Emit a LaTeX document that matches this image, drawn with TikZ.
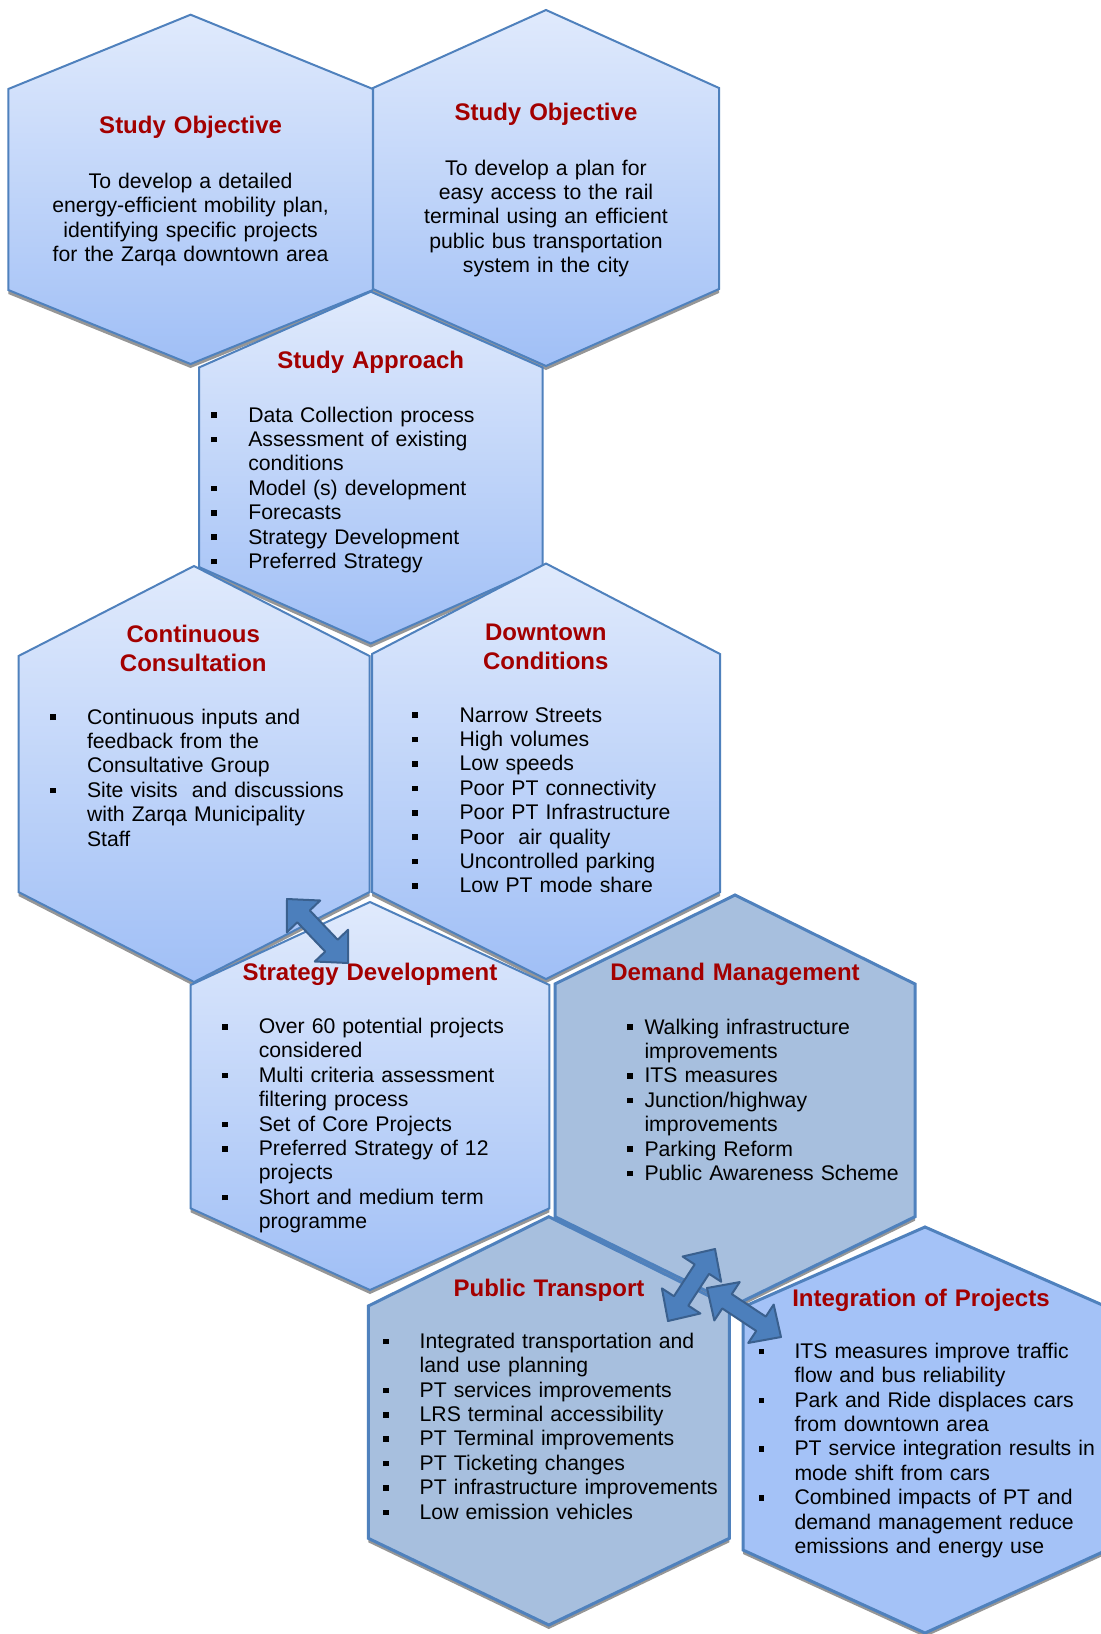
\documentclass[tikz,border=0pt]{standalone}
\usepackage{fontspec}
\setmainfont{Liberation Sans}
\usetikzlibrary{calc}

\definecolor{hexTop}{RGB}{224,234,252}
\definecolor{hexBot}{RGB}{160,191,246}
\definecolor{hexEdge}{RGB}{79,129,189}
\definecolor{greyBlue}{RGB}{167,191,222}
\definecolor{paleBlue}{RGB}{164,194,247}
\definecolor{titleRed}{RGB}{163,0,0}
\definecolor{shadowGrey}{RGB}{150,150,150}
\definecolor{arrowFill}{RGB}{76,127,188}
\definecolor{arrowEdge}{RGB}{58,96,142}

\newcommand{\bodyfont}{\fontsize{10.6}{12.2}\selectfont}
\newcommand{\titlefont}{\fontsize{12}{14.2}\selectfont\bfseries}

% bullet list item with hanging indent
\newlength{\bind}
\newcommand{\bitem}[1]{\hangindent=\bind\hangafter=1\noindent\makebox[\bind][l]{\rule[2pt]{2.8pt}{2.8pt}}#1\par}

% hexagon: centre x, half width, top, upper, lower, bottom
\newcommand{\hexpath}[6]{({#1},{#3}) -- ({#1+#2},{#4}) -- ({#1+#2},{#5}) -- ({#1},{#6}) -- ({#1-#2},{#5}) -- ({#1-#2},{#4}) -- cycle}
\newcommand{\hexcell}[7]{%
  \path[hexshadow] \hexpath{#2}{#3}{#4}{#5}{#6}{#7};
  \path[#1] \hexpath{#2}{#3}{#4}{#5}{#6}{#7};}

% double block arrow between two coordinates
\newcommand{\dblarrow}[2]{%
  \path[blockarrow] (#1)
    -- ($(#1)!12pt!(#2)!11.5pt!90:(#2)$)
    -- ($(#1)!12pt!(#2)!4.3pt!90:(#2)$)
    -- ($(#2)!12pt!(#1)!4.3pt!-90:(#1)$)
    -- ($(#2)!12pt!(#1)!11.5pt!-90:(#1)$)
    -- (#2)
    -- ($(#2)!12pt!(#1)!11.5pt!90:(#1)$)
    -- ($(#2)!12pt!(#1)!4.3pt!90:(#1)$)
    -- ($(#1)!12pt!(#2)!4.3pt!-90:(#2)$)
    -- ($(#1)!12pt!(#2)!11.5pt!-90:(#2)$)
    -- cycle;}

\tikzset{
  hexshadow/.style={fill=shadowGrey, shift={(0,4)}},
  gradhex/.style={draw=hexEdge, line width=1pt, top color=hexTop, bottom color=hexBot},
  greyhex/.style={draw=hexEdge, line width=1.5pt, fill=greyBlue},
  palehex/.style={draw=hexEdge, line width=1.5pt, fill=paleBlue},
  hextitle/.style={anchor=base, inner sep=0pt, text width=170pt, align=center, font=\titlefont, text=titleRed},
  centretext/.style={anchor=base, inner sep=0pt, text width=170pt, align=center, font=\bodyfont},
  bullets/.style={anchor=base west, inner sep=0pt, text width=180pt, align=left, font=\bodyfont,
    execute at begin node={\setlength{\bind}{#1}}},
  blockarrow/.style={fill=arrowFill, draw=arrowEdge, line width=1pt, line join=round}
}

\begin{document}
\begin{tikzpicture}[x=0.5pt, y=-0.5pt]
  \path[use as bounding box, fill=white] (0,0) rectangle (1101,1634);

  % hexagons
  \hexcell{gradhex}{190.6}{182.3}{14.7}{89}{290}{364}
  \hexcell{gradhex}{546}{173}{10}{88}{289}{366}
  \hexcell{gradhex}{370.8}{171.8}{291.7}{367.5}{567}{643.5}
  \hexcell{gradhex}{194}{175.5}{566}{656}{892}{982}
  \hexcell{gradhex}{546}{174}{563.5}{654}{892}{979}
  \hexcell{gradhex}{370}{179.4}{902}{985}{1208.3}{1290}
  \hexcell{greyhex}{735}{180}{895}{984}{1216.7}{1305}
  \hexcell{greyhex}{548.8}{180.5}{1216.7}{1306}{1538.3}{1625}
  \hexcell{palehex}{925}{182}{1227}{1307}{1550}{1633}

  % Study Objective (left)
  \node[hextitle] (obj1-title) at (190.6,133) {Study Objective};
  \node[centretext] (obj1-text) at (190.6,188.3) {To develop a detailed\\energy-efficient mobility plan,\\identifying specific projects\\for the Zarqa downtown area};

  % Study Objective (right)
  \node[hextitle] (obj2-title) at (546,120.7) {Study Objective};
  \node[centretext] (obj2-text) at (546,175) {To develop a plan for\\easy access to the rail\\terminal using an efficient\\public bus transportation\\system in the city};

  % Study Approach
  \node[hextitle] (appr-title) at (370.8,368.5) {Study Approach};
  \node[bullets=18.6pt] (appr-list) at (210.7,422) {\bitem{Data Collection process}\bitem{Assessment of existing\newline conditions}\bitem{Model (s) development}\bitem{Forecasts}\bitem{Strategy Development}\bitem{Preferred Strategy}};

  % Continuous Consultation
  \node[hextitle] (cons-title) at (193.3,642.7) {Continuous\\Consultation};
  \node[bullets=18.3pt] (cons-list) at (50,724) {\bitem{Continuous inputs and\newline feedback from the\newline Consultative Group}\bitem{Site visits\ \ and discussions\newline with Zarqa Municipality\newline Staff}};

  % Downtown Conditions
  \node[hextitle] (down-title) at (545.8,640.8) {Downtown\\Conditions};
  \node[bullets=23.7pt] (down-list) at (411.8,722) {\bitem{Narrow Streets}\bitem{High volumes}\bitem{Low speeds}\bitem{Poor PT connectivity}\bitem{Poor PT Infrastructure}\bitem{Poor\ \ air quality}\bitem{Uncontrolled parking}\bitem{Low PT mode share}};

  % Strategy Development
  \node[hextitle] (strat-title) at (370,980) {Strategy Development};
  \node[bullets=18.2pt] (strat-list) at (222,1033.5) {\bitem{Over 60 potential projects\newline considered}\bitem{Multi criteria assessment\newline filtering process}\bitem{Set of Core Projects}\bitem{Preferred Strategy of 12\newline projects}\bitem{Short and medium term\newline programme}};

  % Demand Management
  \node[hextitle] (dem-title) at (735,980) {Demand Management};
  \node[bullets=8.7pt] (dem-list) at (626.7,1034) {\bitem{Walking infrastructure\newline improvements}\bitem{ITS measures}\bitem{Junction/highway\newline improvements}\bitem{Parking Reform}\bitem{Public Awareness Scheme}};

  % Public Transport
  \node[hextitle] (pt-title) at (549,1296.7) {Public Transport};
  \node[bullets=18.3pt] (pt-list) at (382.7,1348.3) {\bitem{Integrated transportation and\newline land use planning}\bitem{PT services improvements}\bitem{LRS terminal accessibility}\bitem{PT Terminal improvements}\bitem{PT Ticketing changes}\bitem{PT infrastructure improvements}\bitem{Low emission vehicles}};

  % Integration of Projects
  \node[hextitle] (int-title) at (921,1306) {Integration of Projects};
  \node[bullets=17.9pt] (int-list) at (758.3,1358.3) {\bitem{ITS measures improve traffic\newline flow and bus reliability}\bitem{Park and Ride displaces cars\newline from downtown area}\bitem{PT service integration results in\newline mode shift from cars}\bitem{Combined impacts of PT and\newline demand management reduce\newline emissions and energy use}};

  % arrows
  \coordinate (cons-end) at (287,899);
  \coordinate (strat-end) at (348,963);
  \coordinate (dem-end) at (715,1249);
  \coordinate (pt-end) at (668,1321);
  \coordinate (pt-end2) at (707,1288);
  \coordinate (int-end) at (781,1337);
  \dblarrow{cons-end}{strat-end}
  \dblarrow{dem-end}{pt-end}
  \dblarrow{pt-end2}{int-end}
\end{tikzpicture}
\end{document}
